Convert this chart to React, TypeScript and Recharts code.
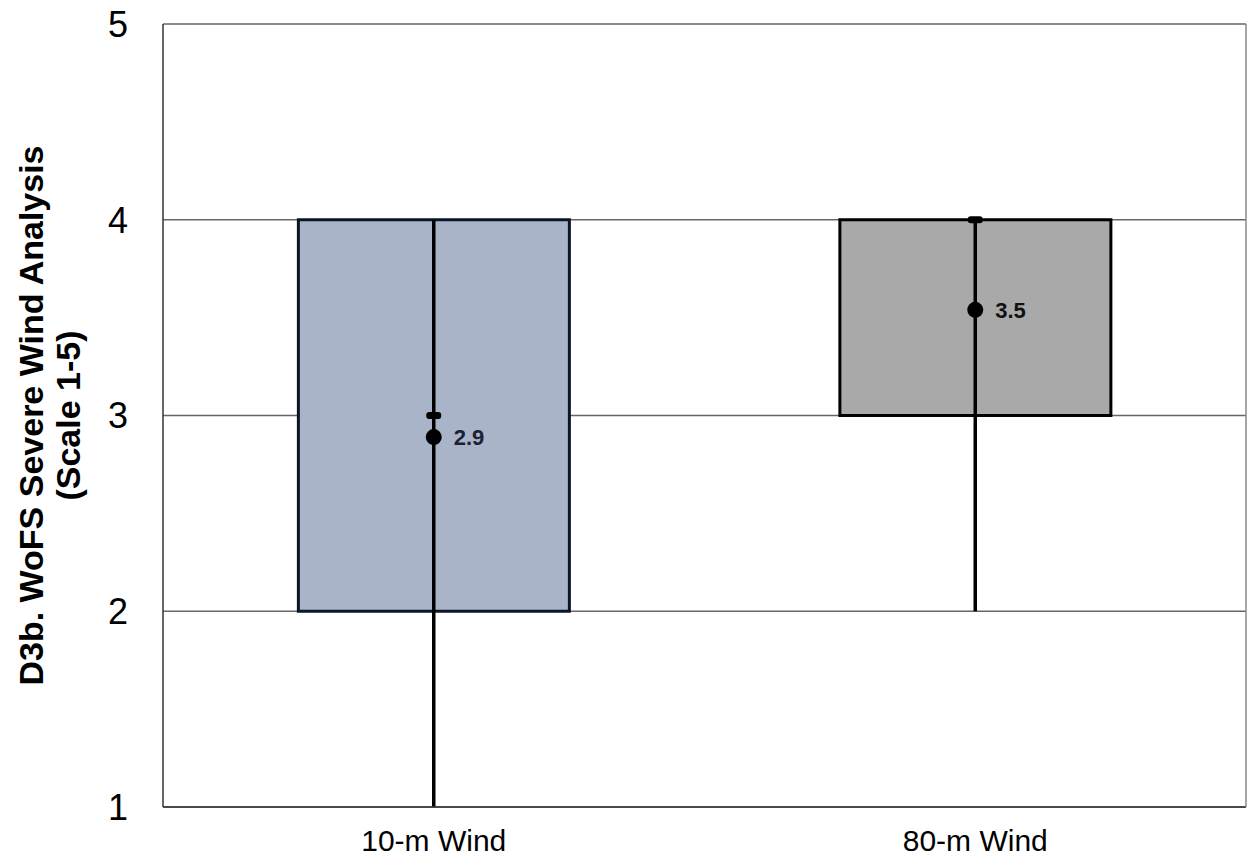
import React from 'react';
import { ComposedChart, Bar, Cell, Scatter, ErrorBar, XAxis, YAxis, CartesianGrid, LabelList } from 'recharts';

const categories = ['10-m Wind', '80-m Wind'];
const mins = [1, 2];
const q1s = [2, 3];
const medians = [3, 4];
const q3s = [4, 4];
const maxs = [4, 4];
const means = [2.89, 3.54];
const meanLabels = ['2.9', '3.5'];
const yTicks = [1, 2, 3, 4, 5];

const boxFills = ['#A9B4C8', '#A9A9A9'];
const boxStrokes = ['#0B1528', '#000000'];
const labelColors = ['#1B2233', '#111111'];

const data = categories.map((c, i) => ({
  name: c,
  box: [q1s[i], q3s[i]],
  median: medians[i],
  mean: means[i],
  err: [means[i] - mins[i], maxs[i] - means[i]],
  label: meanLabels[i],
  idx: i,
}));

const MedianShape = (props: any) => {
  const { cx, cy } = props;
  if (cx == null || cy == null) return null;
  return <rect x={cx - 7.5} y={cy - 3.5} width={15} height={7} rx={3} ry={3} fill="#000" />;
};

const MeanShape = (props: any) => {
  const { cx, cy } = props;
  if (cx == null || cy == null) return null;
  return <circle cx={cx} cy={cy} r={8} fill="#000" />;
};

const YLabel = (props: any) => {
  const vb = props.viewBox || {};
  const cy = vb.y + vb.height / 2;
  return (
    <text
      transform={`translate(0, ${cy}) rotate(-90)`}
      textAnchor="middle"
      style={{ fontFamily: 'Liberation Sans, Arial, sans-serif', fontWeight: 'bold', fontSize: 34 }}
      fill="#000"
    >
      <tspan x={0} y={43}>D3b. WoFS Severe Wind Analysis</tspan>
      <tspan x={0} y={80}>(Scale 1-5)</tspan>
    </text>
  );
};

const MeanLabel = (props: any) => {
  const { x, y, width, height, value, index } = props;
  const cx = x + (width || 0) / 2;
  const cy = y + (height || 0) / 2;
  return (
    <text
      x={cx + 20}
      y={cy}
      dy="0.36em"
      style={{ fontFamily: 'Liberation Sans, Arial, sans-serif', fontWeight: 'bold', fontSize: 22 }}
      fill={labelColors[index] || '#000'}
    >
      {value}
    </text>
  );
};

export default function App() {
  return (
    <div style={{ position: 'absolute', left: 0, top: 0, width: 1248, height: 856, background: '#fff' }}>
      <ComposedChart
        width={1248}
        height={856}
        data={data}
        margin={{ top: 24, right: 0, bottom: 0, left: 0 }}
        barCategoryGap="25%"
      >
        <XAxis
          dataKey="name"
          type="category"
          height={49}
          tickLine={false}
          tickSize={0}
          tickMargin={23}
          axisLine={{ stroke: '#333', strokeWidth: 1.5 }}
          tick={{ fontFamily: 'Liberation Sans, Arial, sans-serif', fontSize: 30, fill: '#000' }}
        />
        <YAxis
          yAxisId="left"
          type="number"
          domain={[1, 5]}
          ticks={yTicks}
          width={163}
          tickLine={false}
          tickSize={0}
          tickMargin={35}
          axisLine={{ stroke: '#333', strokeWidth: 1.5 }}
          tick={{ fontFamily: 'Liberation Sans, Arial, sans-serif', fontSize: 36, fill: '#000' }}
          label={<YLabel />}
        />
        <YAxis
          yAxisId="right"
          orientation="right"
          type="number"
          domain={[1, 5]}
          width={2}
          tick={false}
          tickLine={false}
          axisLine={{ stroke: '#888', strokeWidth: 1.5 }}
        />
        <Bar yAxisId="left" dataKey="box" isAnimationActive={false} strokeWidth={3}>
          {data.map((d, i) => (
            <Cell key={i} fill={boxFills[i]} stroke={boxStrokes[i]} />
          ))}
        </Bar>
        <CartesianGrid yAxisId="left" vertical={false} stroke="#666" strokeWidth={1.3} />
        <Scatter yAxisId="left" dataKey="mean" isAnimationActive={false} shape={() => null}>
          <ErrorBar dataKey="err" direction="y" width={0} stroke="#000" strokeWidth={3.5} />
        </Scatter>
        <Scatter yAxisId="left" dataKey="median" isAnimationActive={false} shape={<MedianShape />} />
        <Scatter yAxisId="left" dataKey="mean" isAnimationActive={false} shape={<MeanShape />}>
          <LabelList dataKey="label" content={<MeanLabel />} />
        </Scatter>
      </ComposedChart>
    </div>
  );
}
